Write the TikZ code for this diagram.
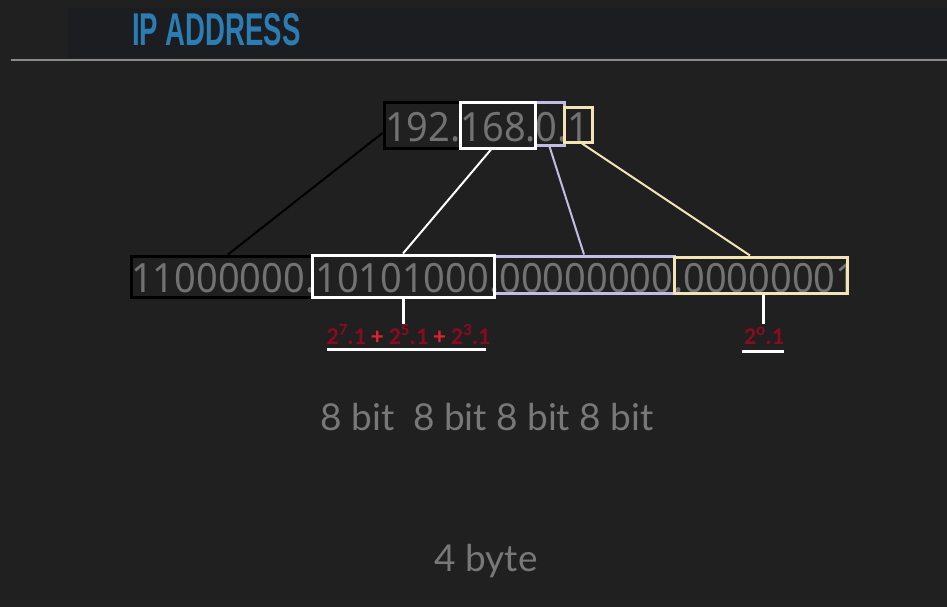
\documentclass[tikz,border=0pt]{standalone}
\usepackage{fontspec}
\setmainfont{Noto Sans}
\newfontfamily\titlefont{Liberation Sans}
\newfontfamily\calfont{Carlito}
\newfontfamily\latofont{Lato}
\usetikzlibrary{calc}
\definecolor{bgcol}{HTML}{202020}
\definecolor{bandcol}{HTML}{1C1D20}
\definecolor{rulecol}{HTML}{8A8A8A}
\definecolor{titleblue}{HTML}{2B7DB3}
\definecolor{txtgray}{HTML}{727272}
\definecolor{bitgray}{HTML}{787878}
\definecolor{lav}{HTML}{C3BDE6}
\definecolor{ylw}{HTML}{F2E4B4}
\definecolor{dred}{HTML}{8A0B1F}
\definecolor{bred}{HTML}{E4202C}
\newcommand{\myexp}[1]{\raisebox{0.36em}{\fontsize{17}{17}\selectfont #1}}
\tikzset{
  boxnode/.style={draw=#1, line width=3pt, inner sep=0pt, fill=none},
  conn/.style={draw=#1, line width=2pt},
  whitebar/.style={draw=white, line width=3pt},
  bigtxt/.style={text=txtgray, inner sep=0pt, yscale=1.06, font=\fontsize{38}{40}\selectfont},
  redtxt/.style={inner sep=0pt, font=\calfont\bfseries\fontsize{24}{26}\selectfont},
  bittxt/.style={text=bitgray, inner sep=0pt, font=\latofont\fontsize{37}{40}\selectfont}
}
\begin{document}
\begin{tikzpicture}[x=1pt,y=-1pt]
\fill[bgcol] (0,0) rectangle (947,607);
\useasboundingbox (0,0) rectangle (947,607);
\fill[bandcol] (68,8) rectangle (947,58);
\draw[rulecol, line width=2pt] (11,60) -- (947,60);
\node[anchor=base west, text=titleblue, inner sep=0pt, xscale=0.6,
      font=\titlefont\bfseries\fontsize{46}{46}\selectfont] (title) at (132,46) {IP ADDRESS};

% top address
\node[bigtxt, anchor=base west] (ip) at (385,142) {192.168.0.1};
\node[boxnode=black, minimum width=76pt, minimum height=45pt] (tb1) at (422,125.5) {};
\node[boxnode=lav, minimum width=29pt, minimum height=42pt] (tb3) at (549.5,124) {};
\node[boxnode=white, minimum width=75pt, minimum height=45pt] (tb2) at (497.5,125.5) {};
\node[boxnode=ylw, minimum width=28pt, minimum height=34pt] (tb4) at (578,125) {};

% binary address
\node[bigtxt, anchor=base west] (bin) at (131,292) {11000000.10101000.00000000.00000001};
\node[boxnode=lav, minimum width=180pt, minimum height=37pt] (bb3) at (584,274.5) {};
\node[boxnode=black, minimum width=181pt, minimum height=41pt] (bb1) at (221.5,276.5) {};
\node[boxnode=white, minimum width=182pt, minimum height=42pt] (bb2) at (403,276) {};
\node[boxnode=ylw, minimum width=173pt, minimum height=36pt] (bb4) at (760.5,275) {};

% connectors
\draw[conn=black] ([yshift=-7.5pt]tb1.west) -- ([xshift=6.5pt]bb1.north);
\draw[conn=white] ([xshift=-6.5pt]tb2.south) -- (bb2.north);
\draw[conn=lav] (tb3.south) -- (bb3.north);
\draw[conn=ylw] ([xshift=4pt]tb4.south) -- ([xshift=-10.5pt]bb4.north);

% expansions
\coordinate (v1) at (403,324);
\coordinate (v2) at (763,324);
\draw[whitebar] (bb2.south) -- (v1);
\draw[whitebar] ([xshift=2.5pt]bb4.south) -- (v2);
\node[redtxt, anchor=base] (e1) at (408.5,344.5)
  {\textcolor{dred}{2\myexp{7}.1} \textcolor{bred}{+} \textcolor{dred}{2\myexp{5}.1} \textcolor{bred}{+} \textcolor{dred}{2\myexp{3}.1}};
\node[redtxt, anchor=base] (e2) at (764,344.5) {\textcolor{dred}{2\myexp{o}.1}};
\coordinate (u1a) at (327,349);
\coordinate (u1b) at (486,349);
\coordinate (u2a) at (742,351);
\coordinate (u2b) at (784,351);
\draw[whitebar] (u1a) -- (u1b);
\draw[whitebar] (u2a) -- (u2b);

% bit / byte labels
\node[bittxt, anchor=base] (bits) at (487,430) {8 bit\hspace{0.25em} 8 bit 8 bit 8 bit};
\node[bittxt, anchor=base] (byte) at (486,571) {4 byte};
\end{tikzpicture}
\end{document}
